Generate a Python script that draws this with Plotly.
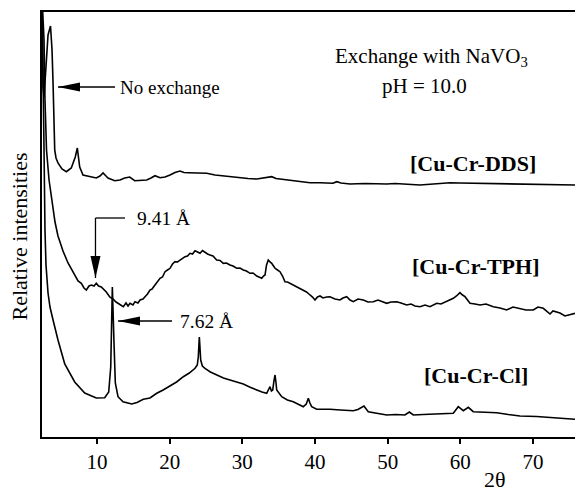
import plotly.graph_objects as go

# ---- XRD patterns (2θ in degrees, relative intensity in arbitrary units) ----
two_theta_dds = [2.43, 2.57, 2.71, 2.98, 3.26, 3.60, 3.81, 3.95, 4.08, 4.18,
                 4.36, 4.63, 5.18, 5.78, 6.46, 7.01, 7.29, 7.62, 8.07, 9.04,
                 9.90, 10.41, 10.83, 11.24, 11.51, 12.44, 13.17, 13.81, 14.50, 15.19,
                 16.84, 17.43, 17.98, 18.67, 19.36, 20.05, 20.73, 21.42, 21.97, 22.56,
                 23.83, 25.10, 26.24, 27.38, 28.44, 29.68, 30.78, 31.98, 33.12, 34.04,
                 34.63, 35.18, 36.28, 37.48, 39.31, 40.69, 42.48, 42.99, 43.58, 44.82,
                 46.88, 49.87, 51.01, 54.45, 57.20, 58.58, 59.95, 62.25, 65.46, 68.21,
                 70.96, 73.71, 75.78]
intensity_dds = [430, 350, 340, 377, 402, 411, 387, 354, 317, 287,
                 279, 274, 268, 265.3, 269, 280, 289, 270, 262, 260,
                 259, 261, 264, 261, 259, 256.3, 257, 259, 260, 256.3,
                 257, 259, 261.3, 259.3, 260, 262, 264.5, 266, 264.5, 264.3,
                 264, 263.7, 262, 261, 260.5, 259.3, 258.5, 258, 259, 260.3,
                 258.5, 258, 256.5, 255.3, 254.3, 254.3, 253.7, 255.3, 254, 253,
                 253.5, 253, 253.5, 252, 254, 254.3, 254, 253.7, 253, 253,
                 252.5, 252, 252]

two_theta_tph = [2.43, 2.71, 2.84, 3.05, 3.40, 3.81, 4.22, 4.63, 5.32, 6.01,
                 6.93, 7.39, 7.84, 8.21, 8.53, 8.90, 9.22, 9.59, 9.90, 10.21,
                 10.59, 10.96, 11.28, 11.75, 12.20, 12.62, 13.17, 13.62, 13.99, 14.27,
                 14.54, 14.95, 15.23, 15.64, 15.92, 16.33, 16.61, 16.95, 17.29, 17.57,
                 17.98, 18.33, 18.67, 19.01, 19.36, 19.70, 20.05, 20.39, 20.73, 21.08,
                 21.42, 21.77, 22.11, 22.45, 22.80, 23.14, 23.49, 23.83, 24.17, 24.52,
                 24.86, 25.21, 25.55, 25.96, 26.47, 26.93, 27.38, 27.82, 28.30, 28.72,
                 29.22, 29.68, 30.13, 30.57, 31.05, 31.47, 31.98, 32.29, 32.67, 32.91,
                 33.12, 33.33, 33.57, 33.81, 34.04, 34.29, 34.50, 34.84, 35.18, 35.53,
                 35.87, 36.22, 36.56, 36.97, 37.48, 37.94, 38.39, 38.83, 39.31, 39.66,
                 40.00, 40.34, 40.69, 41.10, 41.61, 42.06, 42.75, 43.44, 43.85, 44.36,
                 44.82, 45.27, 45.92, 46.65, 47.29, 48.02, 48.67, 49.40, 49.87, 50.46,
                 51.24, 51.83, 52.62, 53.21, 53.76, 54.45, 55.14, 55.82, 56.24, 56.75,
                 57.34, 58.12, 58.58, 59.03, 59.47, 59.95, 60.30, 60.64, 60.99, 61.33,
                 62.02, 62.71, 63.53, 64.54, 65.46, 66.38, 67.25, 68.21, 69.04, 70.04,
                 70.69, 71.42, 71.93, 72.34, 72.75, 73.26, 73.71, 74.40, 75.09, 75.78]
intensity_tph = [440, 397, 337, 287, 257, 234, 215, 201, 186, 174,
                 162, 156, 153.7, 149, 147, 151, 152, 151, 153.7, 151,
                 150, 147, 145, 140, 138, 135, 132, 130.3, 134, 131,
                 133.7, 132, 135.3, 134, 137, 138, 140.3, 143, 147, 148,
                 152, 155, 158.7, 160, 165.3, 167, 168.7, 173, 175.3, 175,
                 177, 179, 180.3, 181, 183.7, 183, 186.3, 185, 183.7, 186.5,
                 184.3, 183, 182, 181, 177, 176.5, 173.7, 174, 172, 171,
                 168.7, 169, 167, 166, 163.7, 164, 161, 160, 158.7, 161,
                 162, 172, 177, 175, 173.7, 171, 168.7, 167, 165.3, 161,
                 155.3, 155, 153.7, 152, 150.3, 149, 147, 145, 142, 140,
                 137, 140, 141, 139, 140, 140.3, 138, 137, 139, 140.3,
                 137, 135.3, 138, 137, 135, 135.3, 137, 135.3, 133.7, 135,
                 135.3, 134, 132, 133, 131, 130.3, 132, 130.3, 132, 133.7,
                 133, 135.3, 137, 138.7, 141, 144.3, 142, 140.3, 137, 133.7,
                 133, 132, 133, 130.3, 129, 127, 130, 128.7, 127, 127,
                 130, 128.7, 126, 123, 126, 125.3, 124, 121, 122, 123.7]

two_theta_cl = [2.43, 2.57, 2.71, 2.84, 2.98, 3.26, 3.53, 3.95, 4.63, 5.56,
                6.93, 8.31, 9.90, 11.06, 11.61, 11.89, 11.97, 12.05, 12.11, 12.17,
                12.25, 12.34, 12.52, 12.89, 13.58, 14.50, 14.78, 15.50, 16.37, 17.29,
                18.22, 19.10, 20.05, 20.95, 21.88, 22.70, 23.49, 23.80, 23.94, 24.03,
                24.08, 24.15, 24.27, 24.50, 24.86, 25.60, 26.47, 27.40, 28.30, 29.20,
                30.13, 31.00, 31.98, 32.70, 33.35, 33.60, 33.81, 34.00, 34.18, 34.35,
                34.50, 34.62, 34.73, 35.42, 36.20, 37.01, 37.70, 38.39, 38.80, 39.08,
                39.30, 39.54, 40.23, 41.20, 42.06, 43.50, 45.27, 45.90, 46.43, 46.74,
                47.33, 48.50, 49.87, 51.10, 52.38, 52.98, 53.53, 54.90, 56.28, 57.60,
                59.03, 59.72, 60.41, 61.10, 61.78, 63.40, 65.00, 66.60, 68.21, 70.50,
                72.79, 74.30, 75.78]
intensity_cl = [440, 377, 287, 207, 172, 144, 130, 117, 97, 73,
                55, 44, 39, 39.3, 45, 70, 94, 140, 150, 135,
                107, 94, 54, 40.3, 35.3, 33.7, 33, 34.5, 37.7, 39,
                43.7, 47, 51, 55, 60.3, 64, 68.7, 72, 80, 95,
                100, 92, 77, 71, 68.7, 65, 62, 59, 57, 55,
                53, 50, 47, 45, 43.7, 48, 50.3, 46, 47, 56,
                62, 55, 47, 40.3, 37, 35.3, 33, 30.3, 33, 38.7,
                34, 30.3, 27.7, 28, 27.7, 27, 26.3, 27.5, 29.7, 31,
                25.3, 23.5, 22, 22.5, 22, 25, 22, 22.5, 23, 23.3,
                23.7, 30.3, 26.3, 29.7, 25.3, 24.8, 24.3, 22.5, 21, 20.5,
                19.7, 18.5, 17.7]

tick_values = [10, 20, 30, 40, 50, 60, 70]

SERIF = "Liberation Serif, Times New Roman, serif"

fig = go.Figure()
for xs, ys in [(two_theta_dds, intensity_dds),
               (two_theta_tph, intensity_tph),
               (two_theta_cl, intensity_cl)]:
    fig.add_trace(go.Scatter(x=xs, y=ys, mode="lines",
                             line=dict(color="black", width=1.6),
                             hoverinfo="skip", showlegend=False))

fig.update_layout(
    width=575, height=494,
    margin=dict(l=42, r=0, t=12, b=57),
    plot_bgcolor="white", paper_bgcolor="white",
    showlegend=False,
    font=dict(family=SERIF, color="black"),
)
fig.update_xaxes(range=[2.43, 75.78], tickvals=tick_values,
                 ticks="outside", ticklen=5, tickwidth=1.5, tickcolor="black",
                 showline=True, linecolor="black", linewidth=2, mirror=True,
                 showgrid=False, zeroline=False,
                 tickfont=dict(family=SERIF, size=21, color="black"))
fig.update_yaxes(range=[0, 425], showticklabels=False, ticks="",
                 showline=True, linecolor="black", linewidth=2,
                 showgrid=False, zeroline=False)


def label(text, x, y, size, bold=False, yanchor="middle", **kw):
    if bold:
        text = "<b>" + text + "</b>"
    fig.add_annotation(text=text, x=x, y=y, showarrow=False,
                       xanchor="center", yanchor=yanchor,
                       font=dict(family=SERIF, size=size, color="black"), **kw)


def arrow_head(x, y, direction):
    # slim filled triangle, tip at (x, y), sized in screen pixels
    paths = {"left": "M0,0 L22,4.5 L22,-4.5 Z",
             "down": "M0,0 L-5,22 L5,22 Z"}
    fig.add_shape(type="path", xref="x", yref="y",
                  xsizemode="pixel", ysizemode="pixel",
                  xanchor=x, yanchor=y, path=paths[direction],
                  fillcolor="black", line=dict(width=0))


def segment(x0, y0, x1, y1):
    fig.add_shape(type="line", xref="x", yref="y", x0=x0, y0=y0, x1=x1, y1=y1,
                  line=dict(color="black", width=1.3))


# texts
label("Exchange with NaVO<sub>3</sub>", 56.1, 365, 21, yanchor="bottom")
label("pH = 10.0", 55.0, 365, 21, yanchor="top")
label("[Cu-Cr-DDS]", 61.74, 274, 22, bold=True)
label("[Cu-Cr-TPH]", 62.15, 171, 22, bold=True)
label("[Cu-Cr-Cl]", 62.15, 62, 22, bold=True)
label("No exchange", 20.07, 350, 19)
label("9.41 Å", 19.15, 219, 19.5)
label("7.62 Å", 25.07, 116, 19.5)
label("2θ", 0.85, -0.134, 22, yanchor="bottom", xref="paper", yref="paper")
label("Relative intensities", -0.043, 0.472, 22, xref="paper", yref="paper",
      textangle=-90)

# pointers
segment(4.63, 350, 12.48, 350)
arrow_head(4.63, 350, "left")

segment(9.79, 159, 9.79, 219)
segment(9.79, 219, 13.85, 219)
arrow_head(9.79, 159, "down")

segment(12.89, 116, 20.32, 116)
arrow_head(12.89, 116, "left")

fig.write_html("out.html")
